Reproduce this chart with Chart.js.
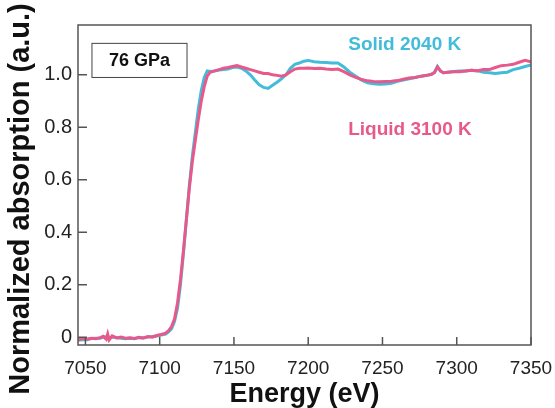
<!DOCTYPE html>
<html>
<head>
<meta charset="utf-8">
<script src="https://cdn.jsdelivr.net/npm/chart.js@4"></script>
<style>
  html, body { margin: 0; padding: 0; background: #fff; }
  #wrap { width: 555px; height: 408px; }
</style>
</head>
<body>
<div id="wrap"><canvas id="xas"></canvas></div>
<script>
// energy grid (eV)
const energy = [
  7045, 7048, 7051, 7054, 7057, 7060, 7062, 7064, 7065, 7066, 7068, 7071, 7074, 7077, 7080, 7083, 7086, 7089, 7092, 7095,
  7098, 7101, 7104, 7106, 7108, 7110, 7112, 7114, 7116, 7118, 7120, 7122, 7124, 7126, 7128, 7130, 7132, 7134, 7137, 7140,
  7143, 7146, 7149, 7152, 7155, 7158, 7161, 7164, 7167, 7170, 7173, 7176, 7179, 7182, 7185, 7188, 7191, 7194, 7197, 7200,
  7204, 7208, 7212, 7216, 7220, 7224, 7228, 7232, 7236, 7240, 7244, 7248, 7252, 7256, 7260, 7264, 7268, 7272, 7276, 7280,
  7283, 7285, 7287, 7289, 7291, 7294, 7298, 7302, 7306, 7310, 7314, 7318, 7322, 7326, 7330, 7334, 7338, 7342, 7346, 7350
];

// Solid 2040 K
const solid = [
  -0.012, -0.010, -0.010, -0.005, -0.004, -0.004, 0.000, 0.002, 0.003, -0.003, 0.000, -0.002, -0.004, -0.006, -0.004, -0.006, -0.002, -0.003, 0.000, 0.002,
  0.004, 0.008, 0.012, 0.020, 0.032, 0.060, 0.110, 0.200, 0.320, 0.450, 0.580, 0.690, 0.780, 0.870, 0.940, 0.990, 1.015, 1.013, 1.015, 1.018,
  1.020, 1.022, 1.028, 1.030, 1.025, 1.015, 1.000, 0.980, 0.962, 0.952, 0.948, 0.960, 0.972, 0.985, 1.000, 1.025, 1.040, 1.045, 1.052, 1.055,
  1.050, 1.048, 1.047, 1.045, 1.045, 1.030, 1.010, 0.995, 0.980, 0.970, 0.966, 0.964, 0.965, 0.968, 0.975, 0.980, 0.985, 0.990, 0.995, 0.998,
  1.002, 1.010, 1.032, 1.015, 1.008, 1.010, 1.013, 1.015, 1.015, 1.017, 1.015, 1.010, 1.008, 1.005, 1.008, 1.010, 1.020, 1.025, 1.032, 1.038
];

// Liquid 3100 K
const liquid = [
  -0.010, -0.005, -0.008, -0.004, -0.006, -0.002, 0.003, -0.008, 0.012, -0.010, 0.005, -0.003, 0.000, -0.004, -0.002, -0.005, -0.001, -0.003, 0.002, 0.000,
  0.006, 0.010, 0.015, 0.025, 0.040, 0.070, 0.130, 0.220, 0.330, 0.450, 0.570, 0.670, 0.750, 0.830, 0.900, 0.955, 0.995, 1.010, 1.015, 1.020,
  1.025, 1.028, 1.032, 1.035, 1.030, 1.025, 1.020, 1.015, 1.010, 1.005, 1.005, 1.000, 0.998, 0.995, 1.000, 1.012, 1.022, 1.025, 1.025, 1.026,
  1.024, 1.025, 1.022, 1.020, 1.022, 1.012, 1.000, 0.990, 0.982, 0.977, 0.975, 0.974, 0.975, 0.976, 0.978, 0.983, 0.988, 0.990, 0.995, 0.998,
  1.002, 1.008, 1.030, 1.015, 1.008, 1.010, 1.012, 1.012, 1.015, 1.017, 1.016, 1.020, 1.020, 1.028, 1.035, 1.037, 1.040, 1.048, 1.055, 1.050
];

const xTicks = [7050, 7100, 7150, 7200, 7250, 7300, 7350];
const yTicks = [0, 0.2, 0.4, 0.6, 0.8, 1.0];

const cyan = '#42bcd8';
const pink = '#e8588a';

// text labels placed in data coordinates
const notes = [
  { text: 'Solid 2040 K', x: 7265, y: 1.115, color: cyan },
  { text: 'Liquid 3100 K', x: 7268.5, y: 0.79, color: pink }
];
const pressureBox = { text: '76 GPa', x0: 7054.4, x1: 7118.4, y0: 0.99, y1: 1.12 };
const yTitle = 'Normalized absorption (a.u.)';

function pts(ys) {
  return energy.map((e, i) => ({ x: e, y: ys[i] }));
}

const frame = {
  id: 'frame',
  afterDraw(chart) {
    const ctx = chart.ctx;
    const a = chart.chartArea;
    const xs = chart.scales.x, ys = chart.scales.y;
    ctx.save();
    ctx.strokeStyle = '#555';
    ctx.lineWidth = 1.5;
    ctx.strokeRect(a.left, a.top, a.right - a.left, a.bottom - a.top);
    // inner ticks
    ctx.beginPath();
    xTicks.forEach(t => {
      const px = xs.getPixelForValue(t);
      ctx.moveTo(px, a.bottom);
      ctx.lineTo(px, a.bottom - 8);
    });
    yTicks.forEach(t => {
      const py = ys.getPixelForValue(t);
      ctx.moveTo(a.left, py);
      ctx.lineTo(a.left + 9, py);
    });
    ctx.stroke();

    // pressure box
    const bx0 = xs.getPixelForValue(pressureBox.x0), bx1 = xs.getPixelForValue(pressureBox.x1);
    const by0 = ys.getPixelForValue(pressureBox.y1), by1 = ys.getPixelForValue(pressureBox.y0);
    ctx.lineWidth = 1;
    ctx.strokeStyle = '#444';
    ctx.fillStyle = '#fff';
    ctx.fillRect(bx0, by0, bx1 - bx0, by1 - by0);
    ctx.strokeRect(bx0, by0, bx1 - bx0, by1 - by0);
    ctx.fillStyle = '#111';
    ctx.font = 'bold 18px "Liberation Sans", Arial, sans-serif';
    ctx.textAlign = 'center';
    ctx.textBaseline = 'middle';
    ctx.fillText(pressureBox.text, (bx0 + bx1) / 2, (by0 + by1) / 2 + 1);

    ctx.font = 'bold 19px "Liberation Sans", Arial, sans-serif';
    notes.forEach(n => {
      ctx.fillStyle = n.color;
      ctx.fillText(n.text, xs.getPixelForValue(n.x), ys.getPixelForValue(n.y));
    });

    // y axis title, a little below the plot centre as in the original
    ctx.translate(21, 199);
    ctx.rotate(-Math.PI / 2);
    ctx.fillStyle = '#111';
    ctx.font = 'bold 29px "Liberation Sans", Arial, sans-serif';
    ctx.fillText(yTitle, 0, 0);
    ctx.restore();
  }
};

new Chart(document.getElementById('xas'), {
  type: 'line',
  data: {
    datasets: [
      { label: 'Solid 2040 K', data: pts(solid), borderColor: cyan, borderWidth: 3, pointRadius: 0, order: 1 },
      { label: 'Liquid 3100 K', data: pts(liquid), borderColor: pink, borderWidth: 3, pointRadius: 0, order: 0 }
    ]
  },
  options: {
    responsive: true,
    maintainAspectRatio: false,
    animation: false,
    layout: { padding: { top: 25, right: 24, left: 0, bottom: 0 } },
    plugins: { legend: { display: false }, tooltip: { enabled: false } },
    scales: {
      x: {
        type: 'linear',
        min: 7045,
        max: 7350,
        afterBuildTicks: s => { s.ticks = xTicks.map(v => ({ value: v })); },
        afterFit: s => { s.height = 63; s.paddingRight = 0; s.paddingLeft = 0; },
        grid: { display: false, drawTicks: false },
        border: { display: false },
        ticks: { color: '#222', padding: 12, maxRotation: 0, font: { size: 19, family: '"Liberation Sans", Arial' },
                 callback: v => String(v) },
        title: { display: true, text: 'Energy (eV)', color: '#111', padding: { top: 0, bottom: -3 },
                 font: { size: 27, weight: 'bold', family: '"Liberation Sans", Arial' } }
      },
      y: {
        min: -0.03,
        max: 1.19,
        afterBuildTicks: s => { s.ticks = yTicks.map(v => ({ value: v })); },
        afterFit: s => { s.width = 78; s.paddingTop = 0; s.paddingBottom = 0; },
        grid: { display: false, drawTicks: false },
        border: { display: false },
        ticks: { color: '#222', padding: 6, font: { size: 20, family: '"Liberation Sans", Arial' },
                 callback: v => v === 0 ? '0' : v.toFixed(1) },
        title: { display: false }
      }
    }
  },
  plugins: [frame]
});
</script>
</body>
</html>
